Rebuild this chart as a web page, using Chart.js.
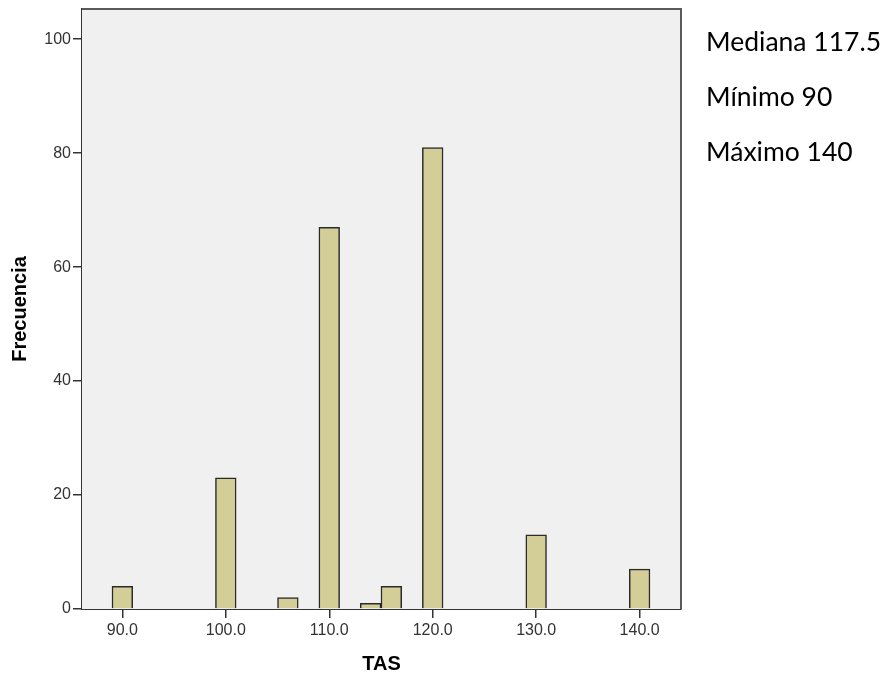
<!DOCTYPE html>
<html>
<head>
<meta charset="utf-8">
<script src="https://cdn.jsdelivr.net/npm/chart.js@4/dist/chart.umd.min.js"></script>
<style>
  html, body { margin: 0; padding: 0; background: #fff; }
  #wrap { position: relative; width: 889px; height: 677px; }
  #stats { position: absolute; left: 706px; top: 14px; font-family: Lato, sans-serif; font-size: 26.5px; color: #000; }
  #stats div { height: 55px; line-height: 55px; white-space: nowrap; }
</style>
</head>
<body>
<div id="wrap">
  <canvas id="chart" width="889" height="677"></canvas>
  <div id="stats">
    <div>Mediana 117.5</div>
    <div>Mínimo 90</div>
    <div>Máximo 140</div>
  </div>
</div>
<script>
// bin centres (TAS) and counts, each bin is 2 units wide
const tasBins = [90, 100, 106, 110, 114, 116, 120, 130, 140];
const counts = [4, 23, 2, 67, 1, 4, 81, 13, 7];
const xTicks = [90, 100, 110, 120, 130, 140];
const yTicks = [0, 20, 40, 60, 80, 100];

const plotFrame = {
  id: 'plotFrame',
  beforeDatasetsDraw(chart) {
    const { ctx, chartArea: a } = chart;
    ctx.save();
    ctx.fillStyle = '#f0f0f0';
    ctx.fillRect(a.left, a.top, a.right - a.left, a.bottom - a.top);
    ctx.restore();
  },
  afterDraw(chart) {
    const { ctx, chartArea: a } = chart;
    ctx.save();
    ctx.strokeStyle = '#5a5a5a';
    ctx.lineWidth = 2;
    ctx.beginPath();
    ctx.moveTo(a.left, a.top);
    ctx.lineTo(a.right, a.top);
    ctx.lineTo(a.right, a.bottom);
    ctx.stroke();
    ctx.restore();
  }
};

const tickFont = { family: 'Arial, "Liberation Sans", sans-serif', size: 16 };
const titleFont = { family: 'Arial, "Liberation Sans", sans-serif', size: 20, weight: 'bold' };

new Chart(document.getElementById('chart'), {
  type: 'bar',
  data: {
    datasets: [{
      data: tasBins.map((t, i) => ({ x: t, y: counts[i] })),
      backgroundColor: '#d3ce97',
      borderColor: '#2a2a2a',
      borderWidth: 1.5,
      barPercentage: 1,
      categoryPercentage: 1
    }]
  },
  plugins: [plotFrame],
  options: {
    responsive: false,
    animation: false,
    layout: { padding: { top: 9, right: 208, left: 0, bottom: 0 } },
    plugins: { legend: { display: false }, tooltip: { enabled: false } },
    scales: {
      x: {
        type: 'linear',
        offset: false,
        min: 86.1,
        max: 144,
        afterBuildTicks: s => { s.ticks = xTicks.map(v => ({ value: v })); },
        afterFit: s => { s.height = 68; },
        ticks: { font: tickFont, color: '#333', padding: 3, callback: v => v.toFixed(1) },
        grid: { offset: false, drawOnChartArea: false, drawTicks: true, tickLength: 9, color: '#333', lineWidth: 1.5 },
        border: { color: '#333', width: 2 },
        title: { display: true, text: 'TAS', font: titleFont, color: '#000', padding: { top: 0, bottom: 1 } }
      },
      y: {
        min: 0,
        max: 105.3,
        afterBuildTicks: s => { s.ticks = yTicks.map(v => ({ value: v })); },
        afterFit: s => { s.width = 82; s.paddingTop = 0; s.paddingBottom = 0; },
        ticks: { font: tickFont, color: '#333', padding: 2 },
        grid: { drawOnChartArea: false, drawTicks: true, tickLength: 9, color: '#333', lineWidth: 1.5 },
        border: { color: '#333', width: 2 },
        title: { display: true, text: 'Frecuencia', font: titleFont, color: '#000', padding: { top: 8, bottom: 0 } }
      }
    }
  }
});
</script>
</body>
</html>
